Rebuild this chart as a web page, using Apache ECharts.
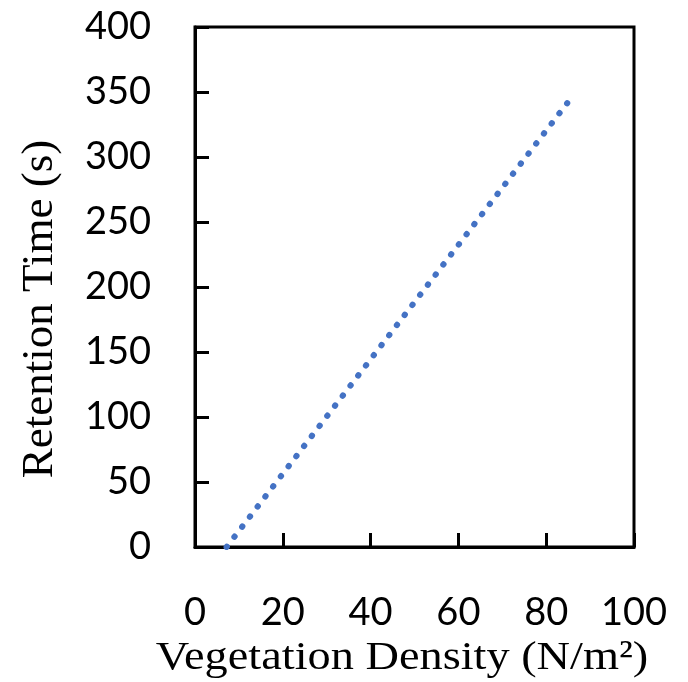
<!DOCTYPE html>
<html>
<head>
<meta charset="utf-8">
<script src="https://cdn.jsdelivr.net/npm/echarts@6/dist/echarts.min.js"></script>
<style>
  html, body { margin: 0; padding: 0; background: #fff; }
  #chart { width: 688px; height: 682px; }
</style>
</head>
<body>
<div id="chart"></div>
<script>
// Linear fit of retention time against vegetation density (endpoints of the trend line)
const densityValues = [7.2, 84.8];
const retentionValues = [0, 341.5];

const xTickValues = [0, 20, 40, 60, 80, 100];
const yTickValues = [0, 50, 100, 150, 200, 250, 300, 350, 400];

const xAxisTitle = 'Vegetation Density (N/m²)';
const yAxisTitle = 'Retention Time (s)';

const linePoints = densityValues.map((x, i) => [x, retentionValues[i]]);

const chart = echarts.init(document.getElementById('chart'), null, { renderer: 'canvas' });

const tickFont = { fontFamily: 'Lato', fontSize: 38, color: '#000' };

chart.setOption({
  animation: false,
  backgroundColor: '#fff',
  grid: {
    left: 195, right: 54, top: 27, bottom: 135,
    show: true, borderColor: '#000', borderWidth: 3, backgroundColor: 'transparent'
  },
  xAxis: {
    type: 'value',
    min: xTickValues[0],
    max: xTickValues[xTickValues.length - 1],
    interval: xTickValues[1] - xTickValues[0],
    axisLine: { show: true, lineStyle: { color: '#000', width: 3 } },
    axisTick: { show: true, inside: true, length: 14, lineStyle: { color: '#000', width: 3 } },
    splitLine: { show: false },
    axisLabel: { ...tickFont, margin: 47 }
  },
  yAxis: {
    type: 'value',
    min: yTickValues[0],
    max: yTickValues[yTickValues.length - 1],
    interval: yTickValues[1] - yTickValues[0],
    axisLine: { show: true, lineStyle: { color: '#000', width: 3 } },
    axisTick: { show: true, inside: true, length: 14, lineStyle: { color: '#000', width: 3 } },
    splitLine: { show: false },
    axisLabel: { ...tickFont, margin: 44 }
  },
  // Axis titles in a serif face
  graphic: [
    {
      type: 'text',
      x: 402, y: 658,
      scaleX: 1.13,
      style: {
        text: xAxisTitle,
        font: '41px "Liberation Serif"',
        fill: '#000',
        align: 'center',
        verticalAlign: 'middle'
      }
    },
    {
      type: 'text',
      x: 40, y: 309,
      rotation: Math.PI / 2,
      style: {
        text: yAxisTitle,
        font: '45px "Liberation Serif"',
        fill: '#000',
        align: 'center',
        verticalAlign: 'middle'
      }
    }
  ],
  series: [{
    type: 'line',
    data: linePoints,
    showSymbol: false,
    symbol: 'none',
    lineStyle: {
      color: '#4472C4',
      width: 6,
      type: [0.5, 12.21],
      cap: 'round'
    },
    silent: true
  }]
});
</script>
</body>
</html>
